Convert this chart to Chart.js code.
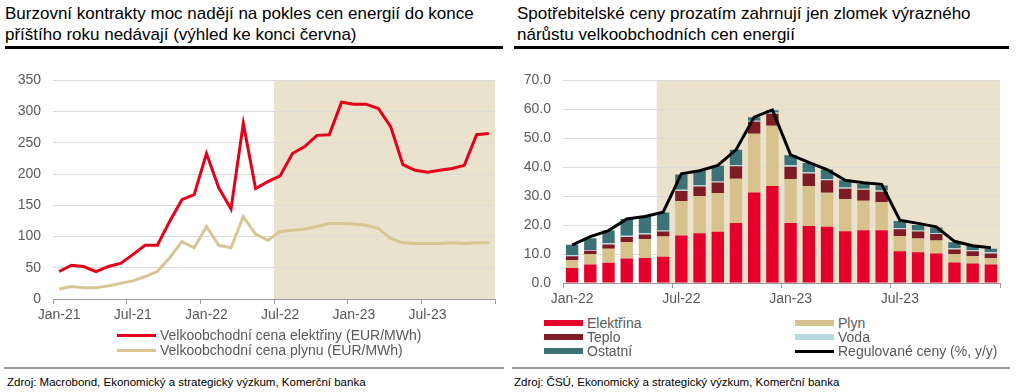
<!DOCTYPE html>
<html>
<head>
<meta charset="utf-8">
<script src="https://cdn.jsdelivr.net/npm/chart.js@4"></script>
<style>
body{margin:0;width:1024px;height:392px;background:#fff;font-family:"Liberation Sans",Arial,sans-serif;position:relative;overflow:hidden}
.title{position:absolute;top:4px;font-size:17px;line-height:20.5px;color:#000}
.rule{position:absolute;height:3px;background:#000;top:46px}
.srule{position:absolute;height:2px;background:#9a9a9a;top:367px}
.src{position:absolute;top:376px;font-size:11.5px;color:#000;white-space:nowrap}
canvas{position:absolute}
.it{position:absolute;white-space:nowrap;display:flex;align-items:center;font-size:14px;line-height:14px;height:14px;color:#595959}
.sw{display:inline-block;width:39px;margin-right:4px}
</style>
</head>
<body>
<div class="title" style="left:5px">Burzovní kontrakty moc nadějí na pokles cen energií do konce<br>příštího roku nedávají (výhled ke konci června)</div>
<div class="title" style="left:517px">Spotřebitelské ceny prozatím zahrnují jen zlomek výrazného<br>nárůstu velkoobchodních cen energií</div>
<div class="rule" style="left:5px;width:498px"></div>
<div class="rule" style="left:514px;width:495px"></div>

<canvas id="c1" width="512" height="270" style="left:0;top:60px"></canvas>
<canvas id="c2" width="512" height="253" style="left:512px;top:60px"></canvas>

<div class="srule" style="left:4px;width:500px"></div>
<div class="srule" style="left:512px;width:498px"></div>
<div class="src" style="left:7px">Zdroj: Macrobond, Ekonomický a strategický výzkum, Komerční banka</div>
<div class="src" style="left:514px">Zdroj: ČSÚ, Ekonomický a strategický výzkum, Komerční banka</div>

<script>
// left chart: wholesale prices, monthly Jan-21 .. Dec-23
const monthsL = ['Jan-21','Feb-21','Mar-21','Apr-21','May-21','Jun-21','Jul-21','Aug-21','Sep-21','Oct-21','Nov-21','Dec-21',
  'Jan-22','Feb-22','Mar-22','Apr-22','May-22','Jun-22','Jul-22','Aug-22','Sep-22','Oct-22','Nov-22','Dec-22',
  'Jan-23','Feb-23','Mar-23','Apr-23','May-23','Jun-23','Jul-23','Aug-23','Sep-23','Oct-23','Nov-23','Dec-23'];
const cenaElektriny = [44, 54, 52, 44, 52, 57, 71, 86, 86, 124, 159, 167, 233, 178, 144, 281, 177, 188,
  197, 233, 244, 262, 263, 315, 312, 312, 305, 276, 215, 206, 203, 206, 209, 214, 263, 265];
const cenaPlynu = [16, 20, 18, 18, 21, 25, 29, 36, 44, 66, 92, 82, 116, 86, 82, 132, 104, 94,
  108, 110, 112, 116, 121, 121, 120, 118, 113, 97, 90, 89, 89, 89, 90, 89, 90, 90];
const legendL = ['Velkoobchodní cena elektřiny (EUR/MWh)', 'Velkoobchodní cena plynu (EUR/MWh)'];

// right chart: contributions to regulated prices, Jan-22 .. Dec-23
const monthsR = ['Jan-22','Feb-22','Mar-22','Apr-22','May-22','Jun-22','Jul-22','Aug-22','Sep-22','Oct-22','Nov-22','Dec-22',
  'Jan-23','Feb-23','Mar-23','Apr-23','May-23','Jun-23','Jul-23','Aug-23','Sep-23','Oct-23','Nov-23','Dec-23'];
const elektrina = [5.2, 6.4, 7.0, 8.5, 8.6, 9.1, 16.4, 17.2, 17.7, 20.7, 31.3, 33.5, 20.7, 19.7, 19.4, 17.9, 18.2, 18.2, 11.0, 10.6, 10.2, 7.1, 6.7, 6.4];
const plyn = [2.7, 3.6, 4.8, 5.7, 6.6, 7.0, 11.9, 12.9, 13.4, 15.3, 20.3, 20.8, 15.2, 13.8, 11.8, 11.1, 10.2, 9.7, 5.2, 4.8, 4.5, 2.9, 2.6, 2.2];
const teplo = [1.3, 1.1, 1.5, 1.7, 1.6, 1.7, 3.5, 3.2, 3.6, 4.3, 4.1, 4.2, 4.3, 4.3, 4.3, 3.6, 3.8, 3.6, 2.4, 2.4, 2.2, 1.6, 1.7, 1.6];
const voda = [0.4, 0.3, 0.4, 0.4, 0.4, 0.3, 0.4, 0.5, 0.4, 0.5, 0.4, 0.4, 0.5, 0.5, 0.4, 0.4, 0.4, 0.5, 0.3, 0.3, 0.4, 0.4, 0.4, 0.4];
const ostatni = [3.6, 4.1, 4.4, 5.8, 5.8, 6.3, 5.3, 5.0, 5.4, 5.2, 1.2, 0.8, 3.4, 3.2, 3.3, 2.5, 1.6, 1.7, 2.5, 1.9, 1.9, 2.1, 1.4, 1.2];
const regulovane = [13.1, 16.0, 18.1, 22.1, 23.0, 24.5, 37.7, 38.8, 40.6, 46.0, 57.3, 59.8, 44.3, 41.7, 39.2, 35.5, 34.6, 34.1, 21.7, 20.6, 19.4, 14.4, 12.9, 12.2];
const legendR = ['Elektřina', 'Plyn', 'Teplo', 'Voda', 'Ostatní', 'Regulované ceny (%, y/y)'];

const RED = '#e2001a', GAS = '#d8c596', SHADE = '#ebe2cd', GRID = '#dcdcdc', AXIS = '#9a9a9a', TXT = '#595959';
const BAR_COLORS = ['#e4002b', '#d7c18d', '#7e1b24', '#b7dade', '#3b7177'];

Chart.defaults.font.family = '"Liberation Sans", Arial, sans-serif';
Chart.defaults.font.size = 14;
Chart.defaults.color = TXT;

// forecast / highlighted period background
function shade(fromValue) {
  return {
    id: 'shade',
    beforeDraw(chart) {
      const a = chart.chartArea, x = chart.scales.x;
      const left = x.getPixelForValue(fromValue);
      const ctx = chart.ctx;
      ctx.save();
      ctx.fillStyle = SHADE;
      ctx.fillRect(left, a.top, a.right - left, a.bottom - a.top);
      ctx.restore();
    }
  };
}

// tick marks only every 6 months (+ closing one)
const tickColor = ctx => (ctx.index === undefined || ctx.index % 6 === 0) ? AXIS : 'rgba(0,0,0,0)';

function xAxis(labels, height) {
  return {
    offset: true,
    grid: { offset: true, drawOnChartArea: false, tickLength: 5, color: tickColor },
    border: { color: AXIS },
    ticks: { autoSkip: false, maxRotation: 0, minRotation: 0, padding: 3,
      callback: (v, i) => i % 6 === 0 ? labels[i] : '' },
    afterFit: s => { s.height = height; }
  };
}

new Chart(document.getElementById('c1'), {
  type: 'line',
  data: {
    labels: monthsL,
    datasets: [
      { label: legendL[0], data: cenaElektriny, borderColor: RED, borderWidth: 3, pointRadius: 0 },
      { label: legendL[1], data: cenaPlynu, borderColor: GAS, borderWidth: 3, pointRadius: 0 }
    ]
  },
  options: {
    responsive: false, animation: false,
    layout: { padding: { top: 14, right: 17, left: 0, bottom: 0 } },
    plugins: { legend: { display: false }, tooltip: { enabled: false } },
    scales: {
      x: xAxis(monthsL, 31),
      y: { min: 0, max: 350, ticks: { stepSize: 50, padding: 12 },
        grid: { color: GRID, drawTicks: false }, border: { display: false },
        afterFit: s => { s.width = 53; } }
    }
  },
  plugins: [shade(17.5)]
});

const barSets = [elektrina, plyn, teplo, voda, ostatni].map((d, i) => ({
  type: 'bar', label: legendR[i], data: d, backgroundColor: BAR_COLORS[i],
  barPercentage: 0.68, categoryPercentage: 1, order: 1
}));

new Chart(document.getElementById('c2'), {
  type: 'bar',
  data: {
    labels: monthsR,
    datasets: barSets.concat([{
      type: 'line', label: legendR[5], data: regulovane, borderColor: '#000', borderWidth: 3,
      pointRadius: 0, stack: 'line', order: 0
    }])
  },
  options: {
    responsive: false, animation: false,
    layout: { padding: { top: 14, right: 24, left: 0, bottom: 0 } },
    plugins: { legend: { display: false }, tooltip: { enabled: false } },
    scales: {
      x: Object.assign(xAxis(monthsR, 30), { stacked: true }),
      y: { stacked: true, min: 0, max: 70, ticks: { stepSize: 10, padding: 12, callback: v => v.toFixed(1) },
        grid: { color: GRID, drawTicks: false }, border: { display: false },
        afterFit: s => { s.width = 51; } }
    }
  },
  plugins: [shade(4.65)]
});

// legends
function legendItem(text, color, h, x, yc) {
  const d = document.createElement('div');
  d.className = 'it';
  d.style.left = x + 'px';
  d.style.top = (yc - 7) + 'px';
  d.innerHTML = '<span class="sw" style="height:' + h + 'px;background:' + color + '"></span>' + text;
  document.body.appendChild(d);
}
legendItem(legendL[0], RED, 3, 117, 335);
legendItem(legendL[1], GAS, 3, 117, 350);
legendItem(legendR[0], BAR_COLORS[0], 6, 544, 323);
legendItem(legendR[2], BAR_COLORS[2], 6, 544, 337);
legendItem(legendR[4], BAR_COLORS[4], 6, 544, 351);
legendItem(legendR[1], BAR_COLORS[1], 6, 795, 323);
legendItem(legendR[3], BAR_COLORS[3], 6, 795, 337);
legendItem(legendR[5], '#000', 3, 795, 351);
</script>
</body>
</html>
